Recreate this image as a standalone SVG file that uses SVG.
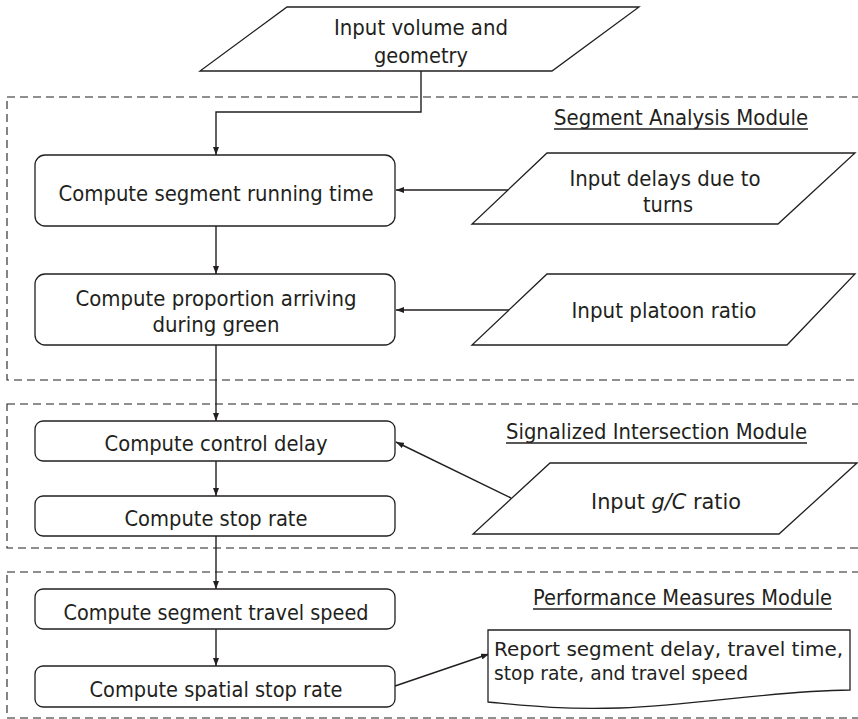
<svg xmlns="http://www.w3.org/2000/svg" width="858" height="719" viewBox="0 0 858 719">
  <style>
    .txt { font-family: "DejaVu Sans", Verdana, sans-serif; font-size: 21px; fill: #231f20; }
    .small { font-size: 20px; }
    .mid { text-anchor: middle; }
    .shape { fill: #ffffff; stroke: #231f20; stroke-width: 1.3; }
    .module { fill: none; stroke: #231f20; stroke-width: 1.1; stroke-dasharray: 8 5; }
    .conn { fill: none; stroke: #231f20; stroke-width: 1.4; }
    .uline { stroke: #231f20; stroke-width: 1.3; }
  </style>
  <defs>
    <marker id="arrow" viewBox="0 0 8 6" refX="8" refY="3" markerWidth="8" markerHeight="6" markerUnits="userSpaceOnUse" orient="auto">
      <path d="M0,0 L8,3 L0,6 Z" fill="#231f20"/>
    </marker>
  </defs>
  <rect width="858" height="719" fill="#ffffff"/>

  <!-- module frames (open to the right edge) -->
  <g id="modules">
    <rect class="module" x="7" y="97" width="880" height="283"/>
    <rect class="module" x="7" y="404" width="880" height="144"/>
    <rect class="module" x="7" y="572" width="880" height="146"/>
  </g>

  <!-- module titles -->
  <g id="module-titles">
    <text class="txt" x="554" y="125" textLength="254" lengthAdjust="spacingAndGlyphs">Segment Analysis Module</text>
    <line class="uline" x1="554" y1="129" x2="808" y2="129"/>
    <text class="txt" x="506" y="439" textLength="301" lengthAdjust="spacingAndGlyphs">Signalized Intersection Module</text>
    <line class="uline" x1="506" y1="443" x2="807" y2="443"/>
    <text class="txt" x="533" y="605" textLength="299" lengthAdjust="spacingAndGlyphs">Performance Measures Module</text>
    <line class="uline" x1="533" y1="609" x2="832" y2="609"/>
  </g>

  <!-- connectors -->
  <g id="connectors">
    <path class="conn" d="M421,71 V112 H216 V155" marker-end="url(#arrow)"/>
    <path class="conn" d="M216,226 V274" marker-end="url(#arrow)"/>
    <path class="conn" d="M509,190 H396" marker-end="url(#arrow)"/>
    <path class="conn" d="M509,310 H396" marker-end="url(#arrow)"/>
    <path class="conn" d="M216,345 V421" marker-end="url(#arrow)"/>
    <path class="conn" d="M216,461 V496" marker-end="url(#arrow)"/>
    <path class="conn" d="M511,498 L396,442" marker-end="url(#arrow)"/>
    <path class="conn" d="M216,536 V589" marker-end="url(#arrow)"/>
    <path class="conn" d="M216,629 V666" marker-end="url(#arrow)"/>
    <path class="conn" d="M395,686 L489,654" marker-end="url(#arrow)"/>
  </g>

  <g id="input-volume">
    <polygon class="shape" points="287,7 639,7 552,71 200,71"/>
    <text class="txt mid" x="421" y="35" textLength="174" lengthAdjust="spacingAndGlyphs">Input volume and</text>
    <text class="txt mid" x="421" y="63" textLength="94" lengthAdjust="spacingAndGlyphs">geometry</text>
  </g>

  <g id="running-time">
    <rect class="shape" x="35" y="155" width="360" height="71" rx="10"/>
    <text class="txt mid" x="216" y="201" textLength="315" lengthAdjust="spacingAndGlyphs">Compute segment running time</text>
  </g>

  <g id="input-delays">
    <polygon class="shape" points="547,153 855,153 778,224 472,224"/>
    <text class="txt mid" x="665" y="186" textLength="191" lengthAdjust="spacingAndGlyphs">Input delays due to</text>
    <text class="txt mid" x="668" y="212" textLength="50" lengthAdjust="spacingAndGlyphs">turns</text>
  </g>

  <g id="proportion-green">
    <rect class="shape" x="35" y="274" width="360" height="71" rx="10"/>
    <text class="txt mid" x="216" y="306" textLength="281" lengthAdjust="spacingAndGlyphs">Compute proportion arriving</text>
    <text class="txt mid" x="216" y="332" textLength="127" lengthAdjust="spacingAndGlyphs">during green</text>
  </g>

  <g id="input-platoon">
    <polygon class="shape" points="547,274 855,274 787,345 472,345"/>
    <text class="txt mid" x="664" y="318" textLength="185" lengthAdjust="spacingAndGlyphs">Input platoon ratio</text>
  </g>

  <g id="control-delay">
    <rect class="shape" x="35" y="421" width="360" height="40" rx="8"/>
    <text class="txt mid" x="216" y="451" textLength="223" lengthAdjust="spacingAndGlyphs">Compute control delay</text>
  </g>

  <g id="stop-rate">
    <rect class="shape" x="35" y="496" width="360" height="40" rx="8"/>
    <text class="txt mid" x="216" y="526" textLength="183" lengthAdjust="spacingAndGlyphs">Compute stop rate</text>
  </g>

  <g id="input-gc">
    <polygon class="shape" points="550,463 857,463 779,534 473,534"/>
    <text class="txt mid" x="666" y="509" textLength="150" lengthAdjust="spacingAndGlyphs">Input <tspan font-style="italic">g/C</tspan> ratio</text>
  </g>

  <g id="travel-speed">
    <rect class="shape" x="35" y="589" width="360" height="40" rx="8"/>
    <text class="txt mid" x="216" y="620" textLength="305" lengthAdjust="spacingAndGlyphs">Compute segment travel speed</text>
  </g>

  <g id="spatial-stop-rate">
    <rect class="shape" x="35" y="666" width="360" height="41" rx="8"/>
    <text class="txt mid" x="216" y="697" textLength="253" lengthAdjust="spacingAndGlyphs">Compute spatial stop rate</text>
  </g>

  <g id="report">
    <path class="shape" d="M488,630 H850 V690 C770,691 700,705 620,708 C560,710 520,705 488,702 Z"/>
    <text class="txt small" x="494" y="656" textLength="349" lengthAdjust="spacingAndGlyphs">Report segment delay, travel time,</text>
    <text class="txt small" x="494" y="680" textLength="254" lengthAdjust="spacingAndGlyphs">stop rate, and travel speed</text>
  </g>
</svg>
